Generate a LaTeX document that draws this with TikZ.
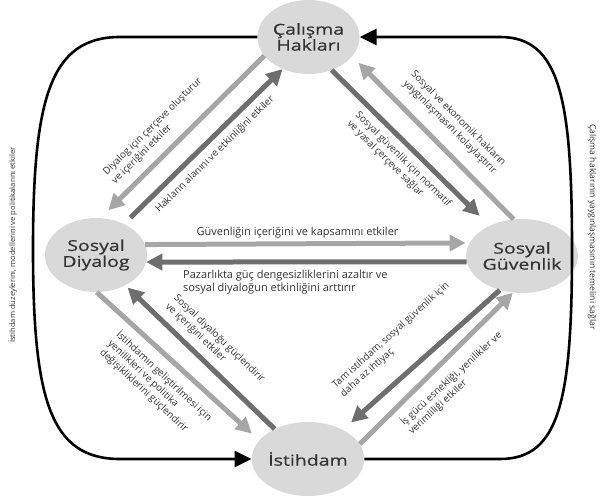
\documentclass[tikz,border=0pt]{standalone}
\usepackage{fontspec}
\setmainfont{Open Sans}
\newfontfamily\nodefont[FakeStretch=1.3,FakeBold=0.6]{Open Sans}
\usetikzlibrary{arrows.meta,shapes.geometric}
\definecolor{ellfill}{HTML}{D9D9D9}
\definecolor{lightln}{HTML}{A6A6A6}
\definecolor{darkln}{HTML}{6E6E6E}
\definecolor{txt}{HTML}{333333}
\begin{document}
\begin{tikzpicture}[x=1pt,y=1pt,
  ell/.style={ellipse, fill=ellfill, minimum width=102pt, minimum height=74pt, inner sep=0pt,
    font=\nodefont\fontsize{15}{16}\selectfont, text=txt, align=center},
  ltarrow/.style={line width=5pt, draw=lightln, -{Triangle[length=16pt,width=16pt]}},
  dkarrow/.style={line width=5pt, draw=darkln, -{Triangle[length=16pt,width=16pt]}},
  blkarrow/.style={line width=2.6pt, draw=black, -{Triangle[length=17pt,width=16pt]}},
  lbl/.style={font=\fontsize{9.8}{12}\selectfont, text=txt, inner sep=0pt},
  hlbl/.style={font=\fontsize{11}{12.5}\selectfont, text=txt, inner sep=0pt},
  slbl/.style={font=\fontsize{8.6}{10}\selectfont, text=txt, inner sep=0pt}]
\useasboundingbox (0,0) rectangle (604,499);

\node[ell] (cal) at (308.5,462) {Çalışma\\Hakları};
\node[ell] (dia) at (96,244) {Sosyal\\Diyalog};
\node[ell] (guv) at (522,243) {Sosyal\\Güvenlik};
\node[ell] (ist) at (308,40) {İstihdam};

% outer black loops
\draw[blkarrow] (cal.west) -- (120,462) .. controls (50,462) and (33,400) .. (33,250)
  .. controls (33,100) and (50,40) .. (120,40) -- (ist.west);
\draw[blkarrow] (ist.east) -- (500,40) .. controls (560,40) and (572,100) .. (572,250)
  .. controls (572,400) and (560,462) .. (500,462) -- (cal.east);

% top-left pair
\draw[ltarrow, shorten >=11pt] (cal.203) -- (dia.83);
\draw[dkarrow, shorten <=9pt] (dia.48) -- (cal.231);
% top-right pair
\draw[dkarrow, shorten >=14pt] (cal.305) -- (guv.137);
\draw[ltarrow, shorten >=9pt] (guv.103) -- (cal.336);
% horizontal pair
\draw[ltarrow, shorten >=4pt] (dia.12.4) -- (guv.166.3);
\draw[dkarrow] (guv.186.6) -- (dia.352.2);
% bottom-left pair
\draw[ltarrow, shorten >=10pt] (dia.271.6) -- (ist.159);
\draw[dkarrow, shorten >=3pt] (ist.138.5) -- (dia.314);
% bottom-right pair
\draw[dkarrow, shorten >=11pt] (guv.237) -- (ist.40);
\draw[ltarrow] (ist.16.7) -- (guv.256);

% labels
\node[lbl, rotate=44.7, align=left] (la) at (157,368) {Diyalog için çerçeve oluşturur\\ve içeriğini etkiler};
\node[lbl, rotate=44.5] (lb) at (215,344.5) {Hakların alanını ve etkinliğini etkiler};
\node[lbl, rotate=-45, align=center] (lc) at (454,376) {Sosyal ve ekonomik hakların\\yaygınlaşmasını kolaylaştırır};
\node[lbl, rotate=-44.6, align=left] (ld) at (399,335) {Sosyal güvenlik için normatif\\ve yasal çerçeve sağlar};
\node[hlbl] (le) at (297.5,266) {Güvenliğin içeriğini ve kapsamını etkiler};
\node[hlbl, anchor=west, align=left] (lf) at (183,217) {Pazarlıkta güç dengesizliklerini azaltır ve\\sosyal diyaloğun etkinliğini arttırır};
\node[lbl, rotate=-43.8, align=left] (lg) at (215,156) {Sosyal diyaloğu güçlendirir\\ve içeriğini etkiler};
\node[lbl, rotate=-43, align=left] (lh) at (156,114) {İstihdamın geliştirilmesi için\\yenilikleri ve politika\\değişikliklerini güçlendirir};
\node[lbl, rotate=42, align=left] (li) at (395,159) {Tam istihdam, sosyal güvenlik için\\daha az ihtiyaç};
\node[lbl, rotate=42.5, align=left] (lj) at (455,116) {İş gücü esnekliği, yenilikler ve\\verimliliği etkiler};
\node[slbl, rotate=90, font=\fontsize{7.6}{9}\selectfont] (ll) at (12.5,254) {İstihdam düzeylerini, modellerini ve politikalarını etkiler};
\node[slbl, rotate=-90] (lr) at (592,272) {Çalışma haklarının yaygınlaşmasının temelini sağlar};
\end{tikzpicture}
\end{document}
